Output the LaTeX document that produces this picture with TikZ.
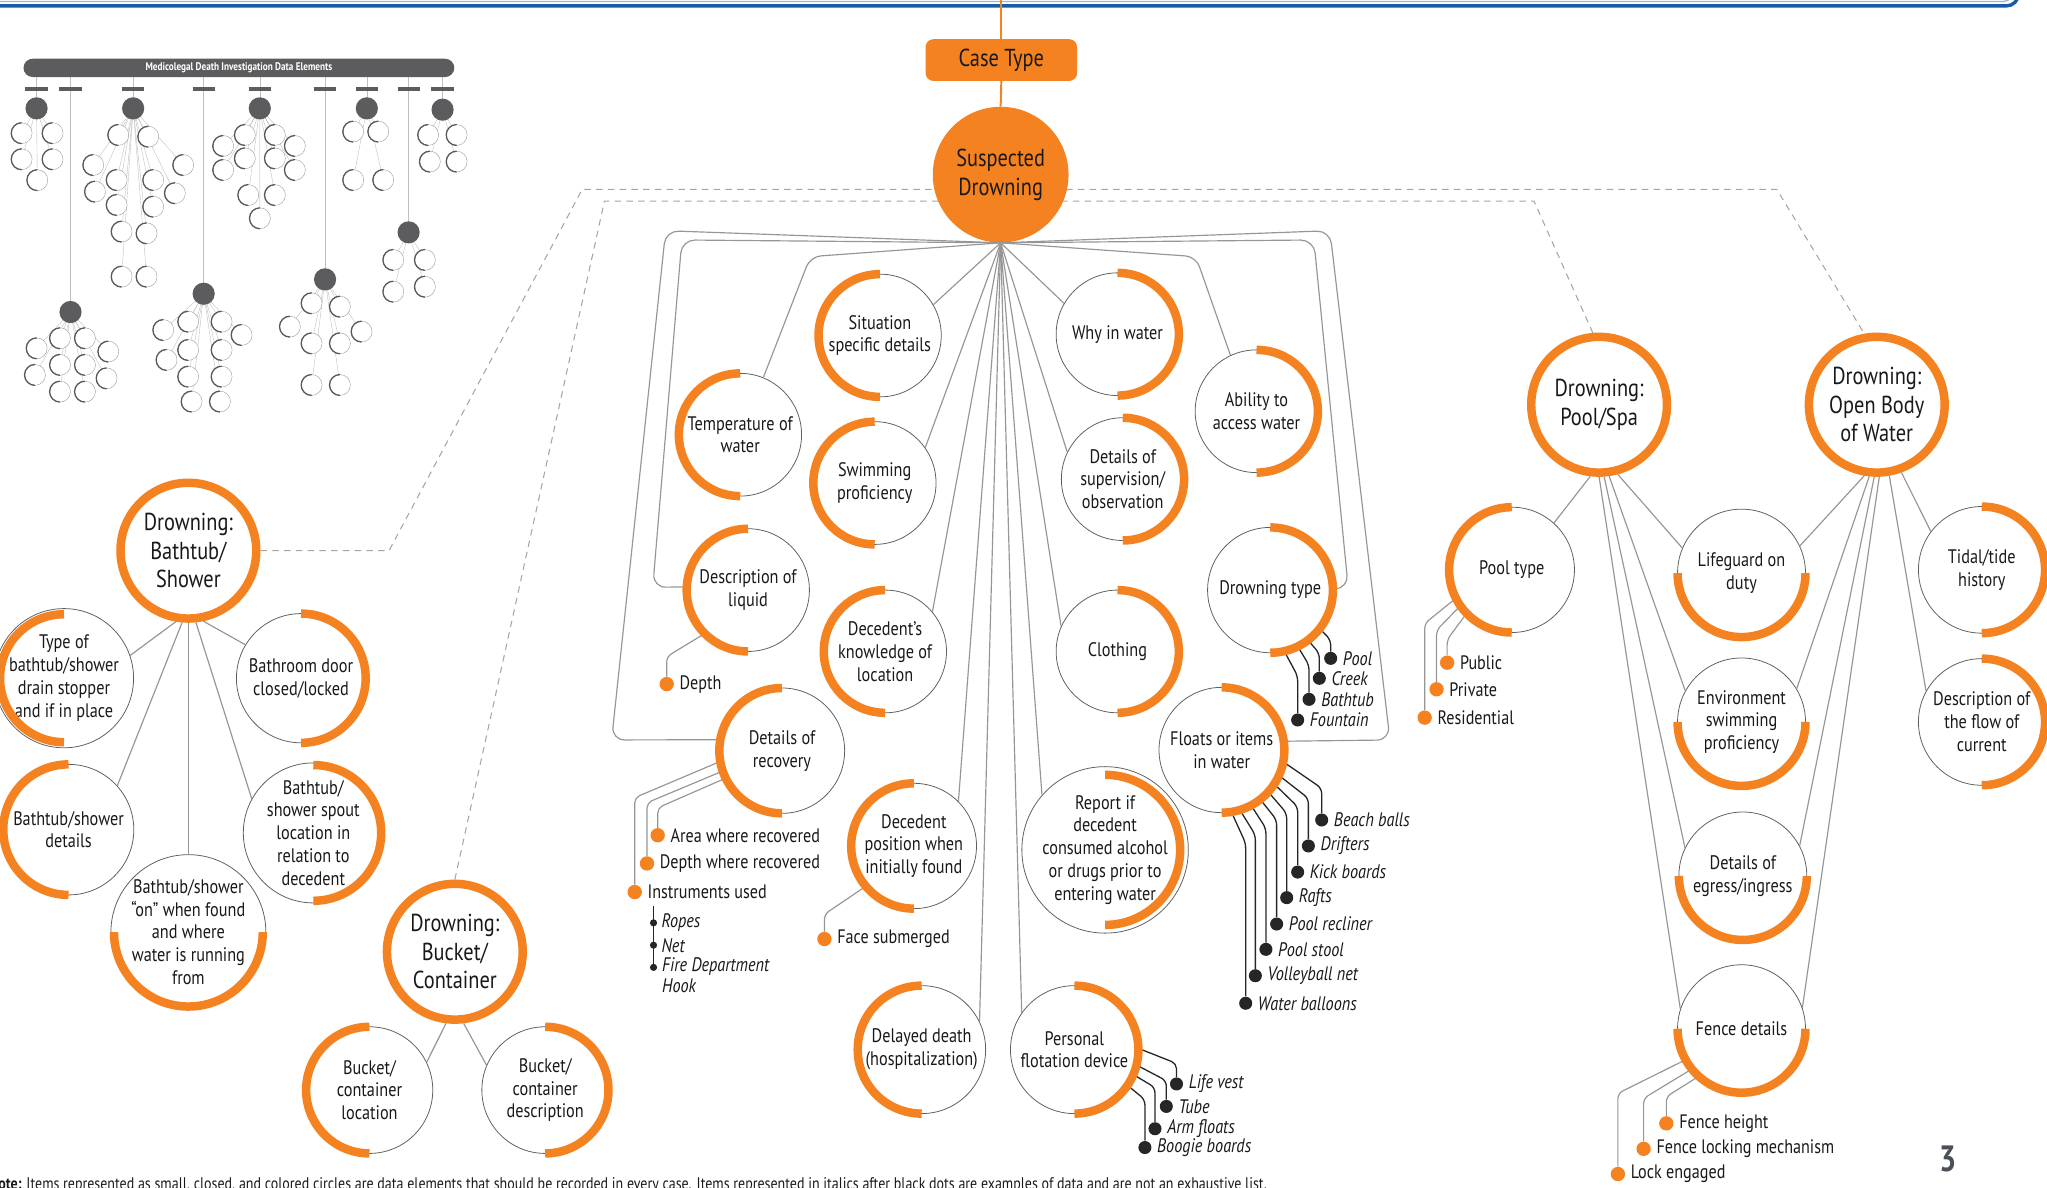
\documentclass[tikz,border=0pt]{standalone}
\usepackage{fontspec}
\setmainfont{PT Sans}[FakeStretch=0.83]
\usetikzlibrary{backgrounds}
\definecolor{orng}{RGB}{245,130,32}
\definecolor{linkgray}{RGB}{150,150,150}
\definecolor{rimgray}{RGB}{95,95,95}
\definecolor{dashgray}{RGB}{165,165,165}
\definecolor{topblue}{RGB}{27,90,165}
\definecolor{thumbdark}{RGB}{92,92,94}
\definecolor{pagegray}{RGB}{75,80,86}
\newcommand{\elemfont}{\fontsize{15}{17.5}\selectfont}
\newcommand{\catfont}{\fontsize{18.8}{22}\selectfont}
\newcommand{\itemfont}{\fontsize{14.9}{17}\selectfont}
\newcommand{\exfont}{\fontsize{15}{16.5}\selectfont\itshape}
\newcommand{\halfring}[3]{\draw[ring] (#1.center) ++(#2:#3) arc[start angle=#2, delta angle=180, radius=#3];}
\tikzset{
  elem/.style={circle, draw=rimgray, line width=0.6pt, fill=white, inner sep=0pt, align=center, font=\elemfont, text=black!90, minimum size=#1},
  elem/.default=94pt,
  cat/.style={circle, draw=orng, line width=6.5pt, fill=white, inner sep=0pt, minimum size=104pt, align=center, font=\catfont, text=black!90},
  ring/.style={draw=orng, line width=6.5pt},
  link/.style={draw=linkgray, line width=0.9pt},
  sublink/.style={draw=linkgray, line width=0.9pt, rounded corners=4pt},
  exlink/.style={draw=black!85, line width=1pt, rounded corners=4pt},
  odot/.style={circle, fill=orng, inner sep=0pt, minimum size=11pt},
  bdot/.style={circle, fill=black!85, inner sep=0pt, minimum size=10pt},
  sdot/.style={circle, fill=black!85, inner sep=0pt, minimum size=5.5pt},
  itemlbl/.style={font=\itemfont, text=black!90, inner sep=1pt},
  exlbl/.style={font=\exfont, text=black!90, inner sep=1pt},
  dashline/.style={draw=dashgray, line width=0.8pt, dash pattern=on 5pt off 4pt},
  thumbln/.style={draw=black!25, line width=0.3pt},
}

\begin{document}
\begin{tikzpicture}[x=1pt, y=-1pt]
\useasboundingbox (0,0) rectangle (1568,910);

\draw[topblue!45, line width=1pt, rounded corners=9pt] (-5,1.2) -- (1543,1.2) -- (1543,-12);
\draw[topblue, line width=2.6pt, rounded corners=9pt] (-5,4.5) -- (1546,4.5) -- (1546,-12);

\begin{scope}
\node[rectangle, rounded corners=7pt, fill=thumbdark, minimum width=330pt, minimum height=14pt, inner sep=0pt, text=white, font=\fontsize{8.5}{9}\selectfont\bfseries] (tbar) at (183,52) {Medicolegal Death Investigation Data Elements};
\foreach \x/\y in {28/83, 102/83, 199/83, 281/83, 339/84, 313/178, 54/239, 156/225, 249/214}
{
  \draw[thumbln] (\x,59) -- (\x,\y);
  \draw[thumbdark, line width=3pt] (\x-8.5,68) -- (\x+8.5,68);
}
\foreach \h/\kids in {
  {(28,83)}/{(16.6,102),(40.3,102),(16.6,122),(40.3,122),(28.6,138)},
  {(102,83)}/{(90.6,103.4),(113.6,104.7),(71.5,126.4),(89.4,137.9),(140.4,126.4),(117.4,137.9),(72.8,146.8),(89.4,157),(134,148),(117.4,158.3),(93.2,177.4),(112.3,178.7),(93.2,211.9),(112.3,211.9)},
  {(199,83)}/{(187.6,103.4),(210.6,103.4),(171,111.8),(171,130.2),(187.6,121.3),(210.6,121.3),(225.9,111.8),(225.9,130.2),(190.2,149.4),(210.6,149.4),(199.1,167.2)},
  {(281,83)}/{(270.6,100.8),(289.8,100.8),(270.6,137.9),(293.6,137.9)},
  {(339,84)}/{(328,103.4),(349.8,103.4),(329.3,123.8),(349.8,123.8)},
  {(313,178)}/{(301.3,199.1),(325.5,199.1),(301.3,223.4),(325.5,219.6)},
  {(54,239)}/{(28.1,266.8),(46,259.1),(65.1,259.1),(83,269.3),(26.8,287.2),(46,279.5),(65.1,279.5),(81.7,289.8),(46,300),(65.1,300)},
  {(156,225)}/{(125.1,252.8),(144.2,246.4),(169.8,246.4),(185.1,256.6),(127.6,275.7),(144.2,268.1),(169.8,268.1),(144.2,288.5),(169.8,288.5),(146.8,307.6),(168.5,307.6)},
  {(249,214)}/{(222.1,250.2),(238.7,232.3),(260.4,234.9),(277,254),(238.7,263),(260.4,263),(238.7,294.9),(260.4,294.9)}}
{
  \foreach \k in \kids
  {
    \draw[thumbln] \h -- \k;
  }
  \foreach \k in \kids
  {
    \draw[black!40, fill=white, line width=0.3pt] \k circle[radius=8pt];
    \draw[black!65, line width=1pt] \k ++(90:8pt) arc[start angle=90, delta angle=180, radius=8pt];
  }
  \fill[thumbdark] \h circle[radius=8.5pt];
}
\end{scope}

\node[rectangle, rounded corners=6pt, fill=orng, minimum width=116pt, minimum height=32pt, font=\catfont, text=black!90] (case) at (767,46) {Case Type};
\node[circle, fill=orng, minimum size=104pt, inner sep=0pt, align=center, font=\catfont, text=black!90] (sd) at (766.5,133.8) {Suspected\\Drowning};
\draw[orng, line width=1.5pt] (767,0) -- (case.north);
\draw[orng, line width=1.5pt] (case.south) -- (sd.north);

\node[cat] (bath) at (144.3,421.8) {Drowning:\\Bathtub/\\Shower};
\node[cat] (bucket) at (348.4,729) {Drowning:\\Bucket/\\Container};
\node[cat] (pool) at (1224.9,310) {Drowning:\\Pool/Spa};
\node[cat] (open) at (1437.6,310) {Drowning:\\Open Body\\of Water};

\node[elem] (sit) at (674,257) {Situation\\specific details};
\node[elem] (why) at (856,256) {Why in water};
\node[elem] (temp) at (567,333) {Temperature of\\water};
\node[elem] (swim) at (670,370) {Swimming\\proficiency};
\node[elem] (superv) at (860,367) {Details of\\supervision/\\observation};
\node[elem] (access) at (962.5,315) {Ability to\\access water};
\node[elem] (liquid) at (573,452) {Description of\\liquid};
\node[elem] (knowl) at (678,499) {Decedent’s\\knowledge of\\location};
\node[elem] (cloth) at (856,499) {Clothing};
\node[elem=96pt] (dtype) at (973,452) {Drowning type};
\node[elem=96pt] (recov) at (599,575) {Details of\\recovery};
\node[elem=96pt] (floats) at (935.8,574.5) {Floats or items\\in water};
\node[elem=96pt] (posit) at (700,648) {Decedent\\position when\\initially found};
\node[elem=115pt] (report) at (846.5,651) {Report if\\decedent\\consumed alcohol\\or drugs prior to\\entering water};
\node[elem=98pt] (delay) at (706,804) {Delayed death\\(hospitalization)};
\node[elem=98pt] (pfd) at (823,804) {Personal\\flotation device};

\node[elem=98pt] (typeof) at (49,519.5) {Type of\\bathtub/shower\\drain stopper\\and if in place};
\node[elem=99pt] (door) at (230.6,519.5) {Bathroom door\\closed/locked};
\node[elem=100pt] (bdet) at (52.5,635.5) {Bathtub/shower\\details};
\node[elem=104pt] (spout) at (240,638) {Bathtub/\\shower spout\\location in\\relation to\\decedent};
\node[elem=114pt] (onwhen) at (144.3,714) {Bathtub/shower\\“on” when found\\and where\\water is running\\from};
\node[elem=97pt] (bloc) at (283,835) {Bucket/\\container\\location};
\node[elem=97pt] (bdesc) at (417.6,835) {Bucket/\\container\\description};

\node[elem=96pt] (ptype) at (1158,436.5) {Pool type};
\node[elem=98pt] (life) at (1334,439) {Lifeguard on\\duty};
\node[elem=98pt] (env) at (1334,553) {Environment\\swimming\\proficiency};
\node[elem=98pt] (egress) at (1335,671) {Details of\\egress/ingress};
\node[elem=98pt] (fence) at (1334,788) {Fence details};
\node[elem=97pt] (tidal) at (1518,436.5) {Tidal/tide\\history};
\node[elem=97pt] (flow) at (1518,553) {Description of\\the flow of\\current};

\begin{scope}[on background layer]
\draw[dashline] (bath.east) -- (298,421.8) -- (446,145) -- (1361,145) -- (open.100);
\draw[dashline] (bucket.north) -- (463,154) -- (1175,154) -- (pool.95);
\end{scope}

\foreach \n/\a in {sit/30.4, swim/35.8, knowl/40.9, why/150.9, superv/154.6, cloth/156.4, posit/45.9, report/139, delay/26.3, pfd/145}
{
  \draw[link] (sd.south) -- (\n.\a);
}
\draw[link, rounded corners=8pt] (sd.south) -- (620.7,196.6) -- (temp.68.7);
\draw[link, rounded corners=8pt] (sd.south) -- (916.1,196.6) -- (access.115);
\draw[link, rounded corners=10pt] (sd.south) -- (522.3,183.8) -- (500,449.9) -- (liquid.177.6);
\draw[link, rounded corners=10pt] (sd.south) -- (509.9,176.7) -- (468.5,566.8) -- (recov.170.7);
\draw[link, rounded corners=10pt] (sd.south) -- (1006.4,183.8) -- (1032.8,450.7) -- (dtype.1.5);
\draw[link, rounded corners=10pt] (sd.south) -- (1018.7,176.7) -- (1064.7,566.8) -- (floats.8.5);

\draw[link] (bath.-100) -- (typeof.19.8);
\draw[link] (bath.-95) -- (bdet.42.6);
\draw[link] (bath.-90) -- (onwhen.90);
\draw[link] (bath.-84) -- (spout.151);
\draw[link] (bath.-78) -- (door.149);
\draw[link] (bucket.-97) -- (bloc.26.5);
\draw[link] (bucket.-83) -- (bdesc.157.8);

\draw[link] (pool.-97) -- (ptype.48);
\draw[link] (pool.-90) -- (fence.162.5);
\draw[link] (pool.-86) -- (egress.154);
\draw[link] (pool.-82) -- (env.151.7);
\draw[link] (pool.-75) -- (life.157);
\draw[link] (open.-100) -- (life.25);
\draw[link] (open.-96) -- (env.31.5);
\draw[link] (open.-92) -- (egress.28);
\draw[link] (open.-88) -- (fence.19);
\draw[link] (open.-80) -- (flow.151.7);
\draw[link] (open.-70) -- (tidal.143);

\node[odot, label={[itemlbl, label distance=3pt]right:Depth}] (depth) at (510.7,524) {};
\draw[sublink] (liquid.225) -- (510.7,503) -- (depth);

\foreach \k/\a/\x/\by/\y/\t in {1/206.5/503.8/618.8/639.8/Area where recovered, 2/199.8/495.6/614.9/661.4/Depth where recovered, 3/190.8/486.2/611/683.3/Instruments used}
{
  \node[odot, label={[itemlbl, label distance=3pt]right:\t}] (rc\k) at (\x,\y) {};
  \draw[sublink] (recov.\a) -- (\x,\by) -- (rc\k);
}
\coordinate (instr) at (500.6,694);
\node[sdot, label={[exlbl, label distance=2pt]right:Ropes}] (ropes) at (500.6,706.9) {};
\node[sdot, label={[exlbl, label distance=2pt]right:Net}] (net) at (500.6,724) {};
\node[sdot] (hook) at (500.6,741) {};
\node[exlbl, align=left, anchor=north west, inner sep=0pt] (hooklbl) at (507,733) {Fire Department\\Hook};
\draw[black!85, line width=0.8pt] (instr) -- (hook.center);

\node[odot, label={[itemlbl, label distance=3pt]right:Face submerged}] (face) at (631.5,719.3) {};
\draw[sublink] (posit.220.8) -- (631.5,700.3) -- (face);

\foreach \k/\a/\x/\by/\y/\t in {1/-38.9/1019.3/490.2/504.3/Pool, 2/-53.2/1010.6/500.4/519.6/Creek, 3/-64.4/1002.7/509.4/535.7/Bathtub, 4/-77.4/994/517.8/551.5/Fountain}
{
  \node[bdot, label={[exlbl, label distance=3pt]right:\t}] (dt\k) at (\x,\y) {};
  \draw[exlink] (dtype.\a) -- (\x,\by) -- (dt\k);
}
\foreach \k/\a/\x/\by/\y/\t in {1/-11.3/1012.4/603.8/628.1/Beach balls, 2/-24.9/1002.2/611.5/648/Drifters, 3/-33.4/994/617.9/668/Kick boards, 4/-42/985.6/623/687.6/Rafts, 5/-52/977.9/628.1/707.8/Pool recliner, 6/-62.9/969.7/634.5/727.2/Pool stool, 7/-73.3/961.6/639.6/747.4/Volleyball net, 8/-81.6/954.2/646/768.5/Water balloons}
{
  \node[bdot, label={[exlbl, label distance=3pt]right:\t}] (fl\k) at (\x,\y) {};
  \draw[exlink] (floats.\a) -- (\x,\by) -- (fl\k);
}
\foreach \k/\a/\x/\by/\y/\t in {1/1.3/901.2/814.6/830.3/Life vest, 2/-14.5/893.4/827.8/847.5/Tube, 3/-23.3/884.7/833/864.6/Arm floats, 4/-34/877/842.3/879/Boogie boards}
{
  \node[bdot, label={[exlbl, label distance=3pt]right:\t}] (pf\k) at (\x,\y) {};
  \draw[exlink] (pfd.\a) -- (\x,\by) -- (pf\k);
}
\foreach \k/\a/\x/\by/\y/\t in {1/224.7/1108.5/490/507.6/Public, 2/215.7/1100.4/482.7/528/Private, 3/207.8/1091.3/477.6/549.7/Residential}
{
  \node[odot, label={[itemlbl, label distance=3pt]right:\t}] (pt\k) at (\x,\y) {};
  \draw[sublink] (ptype.\a) -- (\x,\by) -- (pt\k);
}
\foreach \k/\a/\x/\by/\y/\t in {1/228/1276.4/840/860.5/Fence height, 2/219/1259/841.3/880/Fence locking mechanism, 3/209/1239.3/837.5/899.3/Lock engaged}
{
  \node[odot, label={[itemlbl, label distance=3pt]right:\t}] (fd\k) at (\x,\y) {};
  \draw[sublink] (fence.\a) -- (\x,\by) -- (fd\k);
}

\foreach \n/\a/\r in {sit/90/47pt, why/-90/47pt, temp/90/47pt, swim/90/47pt, superv/-90/47pt, access/-90/47pt, liquid/90/47pt, knowl/90/47pt, cloth/-90/47pt, dtype/-90/48pt, recov/90/48pt, floats/-90/48pt, posit/90/48pt, report/-90/57.5pt, delay/90/49pt, pfd/-90/49pt, typeof/90/49pt, door/-90/49.5pt, bdet/90/50pt, spout/-90/52pt, onwhen/180/57pt, bloc/90/48.5pt, bdesc/-90/48.5pt, ptype/90/48pt, life/180/49pt, env/180/49pt, egress/180/49pt, fence/180/49pt, tidal/-90/48.5pt, flow/-90/48.5pt}
{
  \halfring{\n}{\a}{\r}
}

\node[font=\fontsize{28}{30}\selectfont\bfseries, text=pagegray] (pagenum) at (1492,888) {3};
\node[anchor=base west, inner sep=0pt, font=\fontsize{12.9}{14}\selectfont, text=black!90] (note) at (-8.5,911) {\textbf{Note:} Items represented as small, closed, and colored circles are data elements that should be recorded in every case. Items represented in italics after black dots are examples of data and are not an exhaustive list.};
\end{tikzpicture}
\end{document}
